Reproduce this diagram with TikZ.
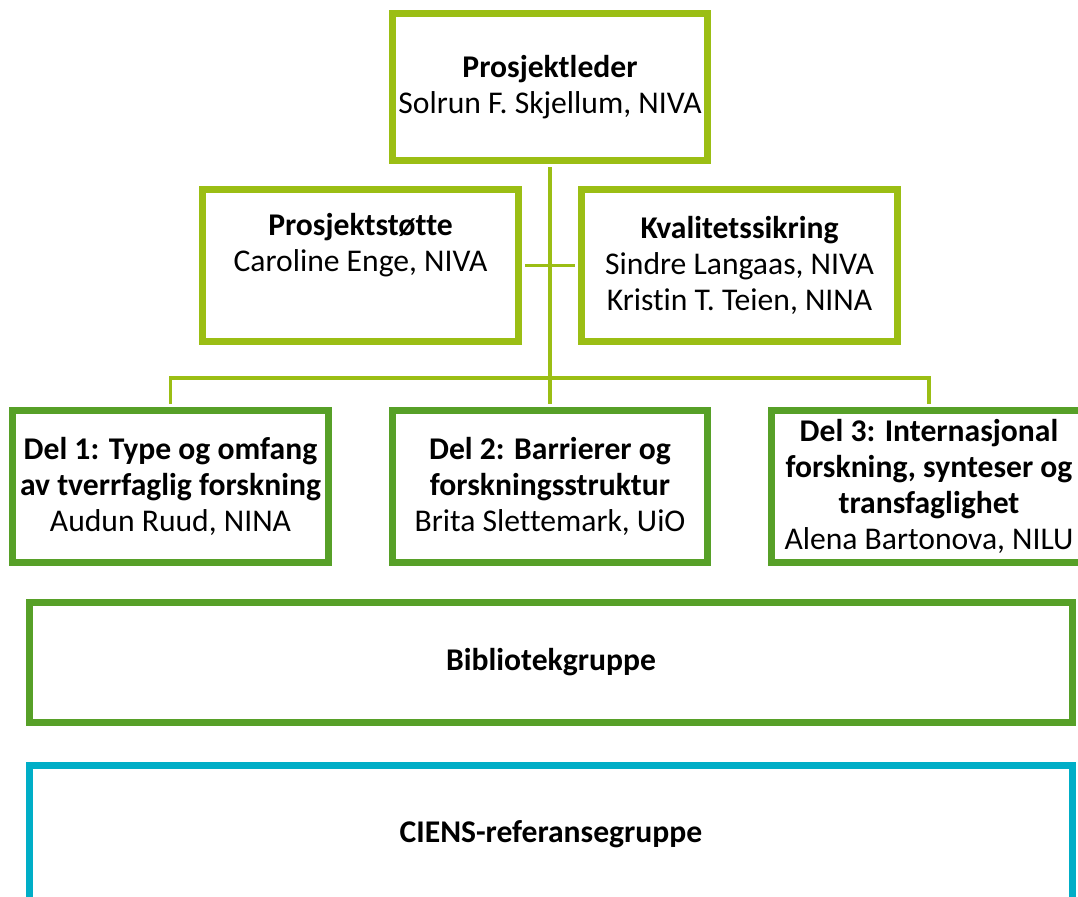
\documentclass[tikz,border=0pt]{standalone}
\usepackage{fontspec}
\setmainfont[Ligatures=NoCommon]{Carlito}
\usetikzlibrary{positioning}

\definecolor{lime}{RGB}{155,190,20}
\definecolor{dgreen}{RGB}{87,160,40}
\definecolor{teal}{RGB}{0,174,199}

\tikzset{
  box/.style={draw,fill=white,line width=0.14cm,align=center,inner sep=0pt,
    font=\fontsize{18}{20.5}\selectfont,minimum width=6.32cm,minimum height=3.04cm},
  topbox/.style={box,draw=lime},
  delbox/.style={box,draw=dgreen},
  widebox/.style={box,minimum width=20.86cm,minimum height=2.4cm},
  link/.style={draw=lime,line width=0.07cm}
}

\begin{document}
\begin{tikzpicture}[x=0.02cm,y=-0.02cm]
			\useasboundingbox (0,0) rectangle (1078,896);
			% organisation chart
			\node[topbox,minimum width=6.3cm,minimum height=2.94cm] (Leder) at (550,87) {\textbf{Prosjektleder}\\Solrun F. Skjellum, NIVA};
			\node[topbox] (Stotte) at (360.5,265.5) {\textbf{Prosjektstøtte}\\Caroline Enge, NIVA\\\strut};
			\node[topbox] (Kvalitet) at (739.5,265.5) {\textbf{Kvalitetssikring}\\Sindre Langaas, NIVA\\Kristin T. Teien, NINA};
			
			\node[delbox] (Del1) at (170.5,486.5) {\textbf{Del 1: Type og omfang}\\\textbf{av tverrfaglig forskning}\\Audun Ruud, NINA};
			\node[delbox] (Del2) at (550,486.5) {\textbf{Del 2: Barrierer og}\\\textbf{forskningsstruktur}\\Brita Slettemark, UiO};
			\node[delbox] (Del3) at (929,486.5) {\textbf{Del 3: Internasjonal}\\\textbf{forskning, synteser og}\\\textbf{transfaglighet}\\Alena Bartonova, NILU};
			
			\node[widebox,draw=dgreen] (Bibliotek) at (551,662.5) {\textbf{Bibliotekgruppe}};
			\node[widebox,draw=teal,minimum height=2.78cm] (Ciens) at (551,834.5) {\textbf{CIENS-referansegruppe}};
			
			\coordinate (bus) at (550,378);
			\draw[link,shorten <=0.07cm,shorten >=0.07cm] (Leder) to (Del2);
			\draw[link,shorten <=0.07cm,shorten >=0.07cm] (Stotte) to (Kvalitet);
			\draw[link,shorten <=0.07cm] (Del1.north) |- (bus);
			\draw[link,shorten >=0.07cm] (bus) -| (Del3.north);
			
			\end{tikzpicture}
\end{document}
